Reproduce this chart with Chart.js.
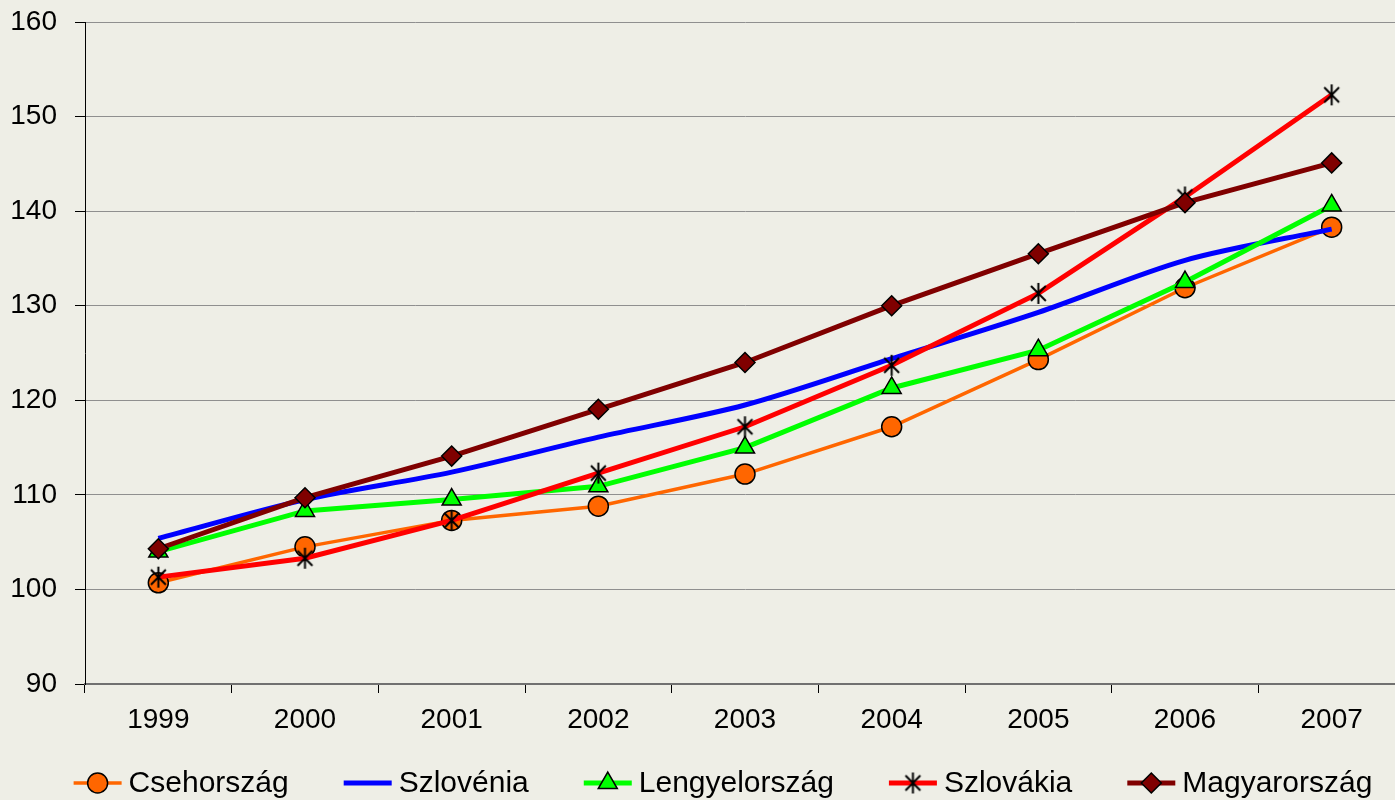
<!DOCTYPE html>
<html>
<head>
<meta charset="utf-8">
<title>Csehország, Szlovénia, Lengyelország, Szlovákia, Magyarország</title>
<script src="https://cdn.jsdelivr.net/npm/chart.js@4.4.0/dist/chart.umd.min.js"></script>
<style>
    html, body { margin: 0; padding: 0; background: #EEEEE6; overflow: hidden; }
    .wrap { width: 1395px; height: 800px; overflow: hidden; }
    canvas { display: block; }
</style>
</head>
<body>
<div class="wrap">
    <!-- plot area runs slightly past the right edge, as in the original -->
    <canvas id="chart" width="1405" height="800"></canvas>
</div>
<script>
// data
const years = ["1999", "2000", "2001", "2002", "2003", "2004", "2005", "2006", "2007"];
const csehorszag = [100.7, 104.5, 107.3, 108.8, 112.2, 117.2, 124.3, 131.9, 138.3];
const szlovenia = [105.4, 109.5, 112.4, 116.1, 119.5, 124.4, 129.3, 134.8, 138.1];
const lengyelorszag = [104.0, 108.3, 109.5, 110.9, 115.0, 121.3, 125.3, 132.5, 140.6];
const szlovakia = [101.3, 103.3, 107.3, 112.3, 117.2, 123.7, 131.3, 141.5, 152.3];
const magyarorszag = [104.3, 109.7, 114.1, 119.05, 124.0, 130.0, 135.5, 140.9, 145.1];
const yTicks = { min: 90, max: 160, step: 10 };

const FONT_FAMILY = "'Liberation Sans', Arial, sans-serif";
const TICK_FONT = { family: FONT_FAMILY, size: 28 };
const LEGEND_FONT = "30px " + FONT_FAMILY;
const LEGEND_Y = 783;
const LEGEND_CENTER = 723;
const LEGEND_LINE = 48;
const LEGEND_TEXT_GAP = 7;
const LEGEND_ITEM_GAP = 55;

// six-armed asterisk used as the Szlovákia marker
function makeAsterisk(size) {
    let c = document.createElement("canvas");
    c.width = size;
    c.height = size;
    let g = c.getContext("2d");
    let m = size / 2;
    let r = size / 2 - 1;
    let d = r * Math.SQRT1_2;
    g.strokeStyle = "#000";
    g.lineWidth = 2;
    g.beginPath();
    g.moveTo(m, m - r);
    g.lineTo(m, m + r);
    g.moveTo(m - d, m - d);
    g.lineTo(m + d, m + d);
    g.moveTo(m + d, m - d);
    g.lineTo(m - d, m + d);
    g.stroke();
    return c;
}

const asterisk = makeAsterisk(23);

const datasets = [
    {
        label: "Csehország",
        data: csehorszag,
        borderColor: "#FF6600",
        backgroundColor: "#FF6600",
        borderWidth: 3.5,
        pointStyle: "circle",
        pointRadius: 10,
        pointBackgroundColor: "#FF6600",
        pointBorderColor: "#000",
        pointBorderWidth: 1.5,
        tension: 0,
        order: 5,
    },
    {
        label: "Szlovénia",
        data: szlovenia,
        borderColor: "#0000FF",
        backgroundColor: "#0000FF",
        borderWidth: 5,
        pointStyle: false,
        pointRadius: 0,
        tension: 0.3,
        order: 4,
    },
    {
        label: "Lengyelország",
        data: lengyelorszag,
        borderColor: "#00FF00",
        backgroundColor: "#00FF00",
        borderWidth: 5,
        pointStyle: "triangle",
        pointRadius: 11,
        pointBackgroundColor: "#00FF00",
        pointBorderColor: "#000",
        pointBorderWidth: 1.5,
        tension: 0,
        order: 3,
    },
    {
        label: "Szlovákia",
        data: szlovakia,
        borderColor: "#FF0000",
        backgroundColor: "#FF0000",
        borderWidth: 5,
        pointStyle: asterisk,
        pointRadius: 10,
        tension: 0,
        order: 2,
    },
    {
        label: "Magyarország",
        data: magyarorszag,
        borderColor: "#800000",
        backgroundColor: "#800000",
        borderWidth: 5,
        pointStyle: "rectRot",
        pointRadius: 10,
        pointBackgroundColor: "#800000",
        pointBorderColor: "#000",
        pointBorderWidth: 1.5,
        tension: 0,
        order: 1,
    },
];

// legend in one row under the axis: line with its marker, then the name
const bottomLegend = {
    id: "bottomLegend",
    afterDraw(chart) {
        let ctx = chart.ctx;
        let sets = chart.data.datasets;
        ctx.save();
        ctx.font = LEGEND_FONT;
        let widths = sets.map((ds) => ctx.measureText(ds.label).width);
        let total = 0;
        widths.forEach((w) => (total += LEGEND_LINE + LEGEND_TEXT_GAP + w));
        total += LEGEND_ITEM_GAP * (sets.length - 1);
        let x = LEGEND_CENTER - total / 2;

        sets.forEach(function (ds, i) {
            ctx.strokeStyle = ds.borderColor;
            ctx.lineWidth = ds.borderWidth;
            ctx.beginPath();
            ctx.moveTo(x, LEGEND_Y);
            ctx.lineTo(x + LEGEND_LINE, LEGEND_Y);
            ctx.stroke();

            if (ds.pointStyle) {
                ctx.fillStyle = ds.pointBackgroundColor || ds.backgroundColor;
                ctx.strokeStyle = ds.pointBorderColor || "#000";
                ctx.lineWidth = ds.pointBorderWidth || 0;
                Chart.helpers.drawPoint(
                    ctx,
                    {
                        pointStyle: ds.pointStyle,
                        radius: ds.pointRadius,
                        borderWidth: ds.pointBorderWidth || 0,
                        rotation: 0,
                    },
                    x + LEGEND_LINE / 2,
                    LEGEND_Y
                );
            }

            ctx.fillStyle = "#000";
            ctx.textAlign = "left";
            ctx.textBaseline = "middle";
            ctx.fillText(ds.label, x + LEGEND_LINE + LEGEND_TEXT_GAP, LEGEND_Y + 1);
            x += LEGEND_LINE + LEGEND_TEXT_GAP + widths[i] + LEGEND_ITEM_GAP;
        });
        ctx.restore();
    },
};

const config = {
    type: "line",
    data: { labels: years, datasets: datasets },
    options: {
        responsive: false,
        animation: false,
        layout: {
            autoPadding: false,
            padding: { top: 22, right: 0, bottom: 56, left: 0 },
        },
        plugins: {
            legend: { display: false },
            tooltip: { enabled: false },
        },
        scales: {
            x: {
                offset: true,
                grid: {
                    offset: true,
                    drawOnChartArea: false,
                    drawTicks: true,
                    tickLength: 9,
                    color: "#000",
                    lineWidth: 1,
                },
                border: { color: "#707070", width: 2 },
                ticks: {
                    font: TICK_FONT,
                    color: "#000",
                    padding: 10,
                    maxRotation: 0,
                    autoSkip: false,
                },
                afterFit: function (scale) {
                    scale.height = 60;
                    scale.paddingLeft = 0;
                    scale.paddingRight = 0;
                },
            },
            y: {
                min: yTicks.min,
                max: yTicks.max,
                ticks: {
                    stepSize: yTicks.step,
                    font: TICK_FONT,
                    color: "#000",
                    padding: 18,
                },
                grid: {
                    color: "#8f8f8f",
                    tickColor: "#000",
                    tickLength: 10,
                    lineWidth: 1,
                },
                border: { color: "#000", width: 1 },
                afterFit: function (scale) {
                    scale.width = 85;
                    scale.paddingTop = 0;
                    scale.paddingBottom = 0;
                },
            },
        },
    },
    plugins: [bottomLegend],
};

new Chart(document.getElementById("chart").getContext("2d"), config);
</script>
</body>
</html>
